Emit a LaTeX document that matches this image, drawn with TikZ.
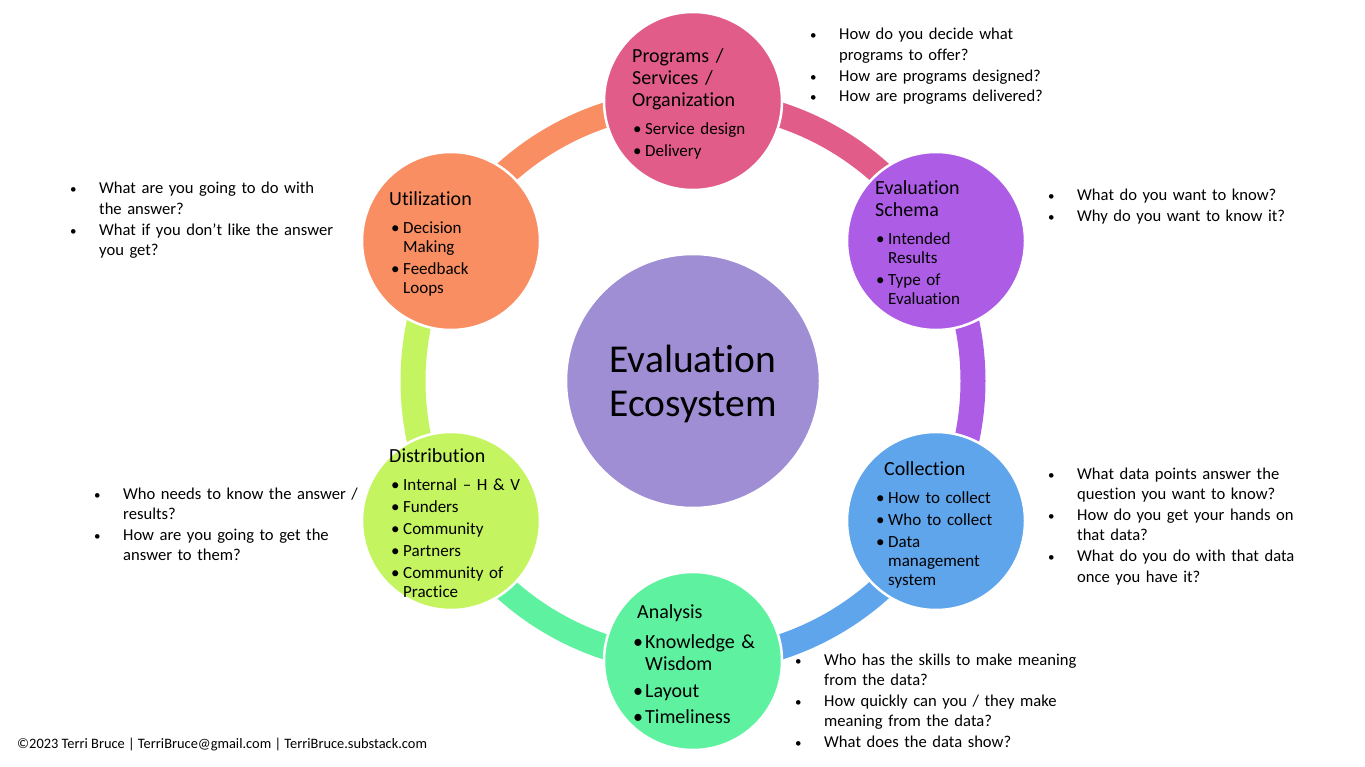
\documentclass[tikz,border=0pt]{standalone}
\usepackage{fontspec}
\setmainfont{Carlito}[RawFeature={-liga;-clig;-calt;-dlig}]
\definecolor{cprog}{HTML}{E25C8A}
\definecolor{cschema}{HTML}{AD5CE6}
\definecolor{ccoll}{HTML}{5FA5EC}
\definecolor{cana}{HTML}{5EF2A0}
\definecolor{cdist}{HTML}{C4F45F}
\definecolor{cutil}{HTML}{F98E62}
\definecolor{chub}{HTML}{A08ED4}
\newcommand{\cb}{\makebox[12pt][l]{\textbullet}}
\newcommand{\ci}{\hspace*{12pt}}
\newcommand{\qb}{\makebox[29pt][l]{\fontsize{13}{13}\selectfont\textbullet}}
\newcommand{\qi}{\hspace*{29pt}}
\begin{document}
\begin{tikzpicture}[x=1pt,y=-1pt,
  ring/.style={line width=25pt},
  bubble/.style={circle, draw=white, line width=2.5pt, minimum size=178pt, inner sep=0pt},
  hubstyle/.style={circle, draw=white, line width=2.5pt, minimum size=254pt, inner sep=0pt, fill=chub},
  ttl/.style={anchor=base west, inner sep=0pt, align=left, text width=200pt, font=\fontsize{20}{22}\selectfont},
  blist/.style={anchor=base west, inner sep=0pt, align=left, text width=200pt, font=\fontsize{17}{19}\selectfont},
  alist/.style={anchor=base west, inner sep=0pt, align=left, text width=200pt, font=\fontsize{20}{22}\selectfont},
  qlist/.style={anchor=base west, inner sep=0pt, align=left, text width=320pt, font=\fontsize{16.6}{20.6}\selectfont},
]
\useasboundingbox (0,0) rectangle (1365,767);
\fill[white] (0,0) rectangle (1365,767);
\coordinate (hubc) at (693,381);
% ring segments
\draw[ring, cprog]   (hubc) ++(-90:280) arc[start angle=-90, end angle=-30, radius=280];
\draw[ring, cschema] (hubc) ++(-30:280) arc[start angle=-30, end angle=30, radius=280];
\draw[ring, ccoll]   (hubc) ++(30:280) arc[start angle=30, end angle=90, radius=280];
\draw[ring, cana]    (hubc) ++(90:280) arc[start angle=90, end angle=150, radius=280];
\draw[ring, cdist]   (hubc) ++(150:280) arc[start angle=150, end angle=210, radius=280];
\draw[ring, cutil]   (hubc) ++(210:280) arc[start angle=210, end angle=270, radius=280];
% circles
\node[hubstyle] (hub) at (hubc) {};
\node[bubble, fill=cprog]   (prog)   at (693,101) {};
\node[bubble, fill=cschema] (schema) at (936,241) {};
\node[bubble, fill=ccoll]   (coll)   at (936,521) {};
\node[bubble, fill=cana]    (ana)    at (693,661) {};
\node[bubble, fill=cdist]   (dist)   at (451,521) {};
\node[bubble, fill=cutil]   (util)   at (451,241) {};
% hub text
\node[anchor=base, inner sep=0pt, align=center, font=\fontsize{39.5}{44}\selectfont] (hubtxt) at (693,416) {Evaluation\\Ecosystem};
% programs
\node[ttl] (progt) at (632,63) {Programs /\\Services /\\Organization};
\node[blist] (progb) at (633,135) {\cb Service design\\[3pt]\cb Delivery};
% schema
\node[ttl] (schemat) at (875,195) {Evaluation\\Schema};
\node[blist] (schemab) at (876,245) {\cb Intended\\\ci Results\\[3pt]\cb Type of\\\ci Evaluation};
% collection
\node[ttl] (collt) at (884,475) {Collection};
\node[blist] (collb) at (876,503) {\cb How to collect\\[3pt]\cb Who to collect\\[3pt]\cb Data\\\ci management\\\ci system};
% analysis
\node[ttl] (anat) at (637,618) {Analysis};
\node[alist] (anab) at (633,648) {\cb Knowledge \&\\\ci Wisdom\\[5pt]\cb Layout\\[4pt]\cb Timeliness};
% distribution
\node[ttl] (distt) at (389,462) {Distribution};
\node[blist] (distb) at (391,490) {\cb Internal -- H \& V\\[3pt]\cb Funders\\[3pt]\cb Community\\[3pt]\cb Partners\\[3pt]\cb Community of\\\ci Practice};
% utilization
\node[ttl] (utilt) at (389,206) {Utilization};
\node[blist] (utilb) at (391,234) {\cb Decision\\\ci Making\\[3pt]\cb Feedback\\\ci Loops};
% questions
\node[qlist] (qprog) at (810,40) {\qb How do you decide what\\\qi programs to offer?\\\qb How are programs designed?\\\qb How are programs delivered?};
\node[qlist] (qschema) at (1048,201) {\qb What do you want to know?\\\qb Why do you want to know it?};
\node[qlist] (qcoll) at (1048,479) {\qb What data points answer the\\\qi question you want to know?\\\qb How do you get your hands on\\\qi that data?\\\qb What do you do with that data\\\qi once you have it?};
\node[qlist] (qana) at (795,665) {\qb Who has the skills to make meaning\\\qi from the data?\\\qb How quickly can you / they make\\\qi meaning from the data?\\\qb What does the data show?};
\node[qlist] (qdist) at (94,499) {\qb Who needs to know the answer /\\\qi results?\\\qb How are you going to get the\\\qi answer to them?};
\node[qlist] (qutil) at (70,194) {\qb What are you going to do with\\\qi the answer?\\\qb What if you don’t like the answer\\\qi you get?};
% footer
\node[anchor=base west, inner sep=0pt, font=\fontsize{14.4}{16}\selectfont] (footer) at (17,748) {©2023 Terri Bruce | TerriBruce@gmail.com | TerriBruce.substack.com};
\end{tikzpicture}
\end{document}
